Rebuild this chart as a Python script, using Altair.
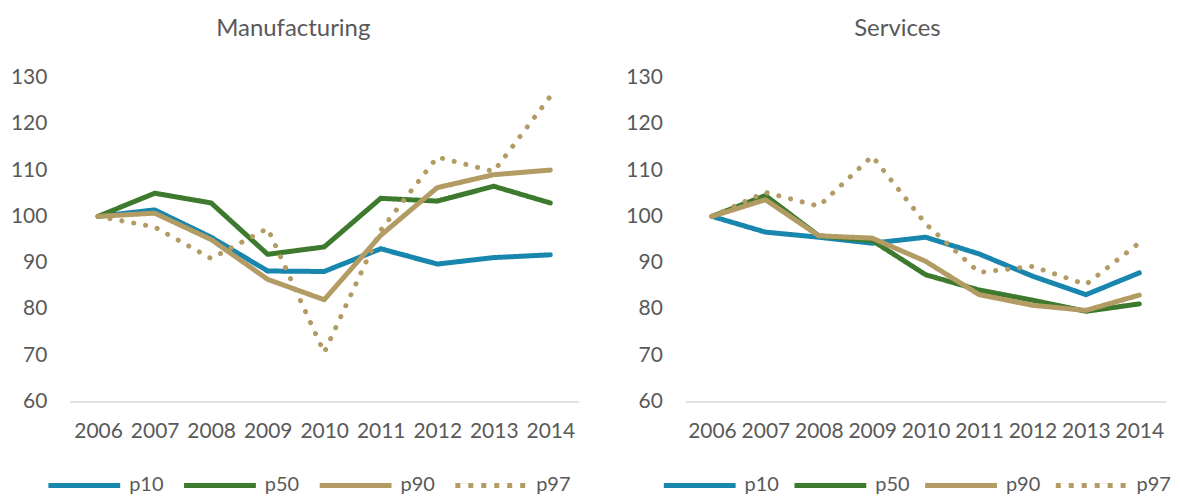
import altair as alt
import pandas as pd

years = ["2006", "2007", "2008", "2009", "2010", "2011", "2012", "2013", "2014"]
series_names = ["p10", "p50", "p90", "p97"]
series_colors = ["#1886ad", "#3e7a2d", "#b39b64", "#b39b64"]
series_dashes = [[1, 0], [1, 0], [1, 0], [5, 8]]

manufacturing_p10 = [100, 101.4, 95.5, 88.2, 88.1, 93.0, 89.7, 91.1, 91.7]
manufacturing_p50 = [100, 105.0, 102.9, 91.8, 93.4, 103.9, 103.3, 106.5, 102.9]
manufacturing_p90 = [100, 100.7, 95.0, 86.4, 82.0, 95.9, 106.2, 109.0, 110.0]
manufacturing_p97 = [100, 97.7, 90.9, 97.4, 70.6, 97.0, 112.8, 109.7, 125.9]

services_p10 = [100, 96.6, 95.5, 94.2, 95.5, 91.9, 87.1, 83.1, 87.8]
services_p50 = [100, 104.5, 95.8, 94.8, 87.4, 84.1, 81.9, 79.5, 81.1]
services_p90 = [100, 103.6, 95.8, 95.3, 90.3, 83.1, 80.8, 79.7, 83.0]
services_p97 = [100, 105.2, 102.2, 113.0, 98.4, 87.9, 89.2, 85.3, 94.3]

FONT = "Lato"
TEXT = "#595959"


def make_df(cols):
    rows = []
    for name, vals in zip(series_names, cols):
        for y, v in zip(years, vals):
            rows.append({"year": y, "series": name, "value": v})
    return pd.DataFrame(rows)


def panel(title, cols, width, col_pad):
    df = make_df(cols)
    legend = alt.Legend(
        title=None, orient="none", legendX=4.5, legendY=399, direction="horizontal",
        symbolType="M-7.2,0H7.2", symbolSize=100, symbolStrokeWidth=5,
        labelOffset=35, columnPadding=col_pad, labelFontSize=20, labelColor=TEXT,
        labelFont=FONT, padding=0,
    )
    color = alt.Color("series:N", scale=alt.Scale(domain=series_names, range=series_colors), legend=legend)
    x = alt.X("year:O", scale=alt.Scale(padding=0.5),
              axis=alt.Axis(title=None, labelAngle=0, ticks=False, domainColor="#d9d9d9",
                            domainWidth=1.5, labelPadding=19, labelFontSize=21,
                            labelColor=TEXT, labelFont=FONT))
    y = alt.Y("value:Q", scale=alt.Scale(domain=[60, 130], nice=False, zero=False),
              axis=alt.Axis(title=None, values=[60, 70, 80, 90, 100, 110, 120, 130], grid=False,
                            domain=False, ticks=False, labelPadding=23, labelFontSize=21,
                            labelColor=TEXT, labelFont=FONT, minExtent=62, maxExtent=62))
    base = alt.Chart(df)
    solid = base.transform_filter(alt.datum.series != "p97").mark_line(
        strokeWidth=5, strokeCap="round", strokeJoin="round"
    ).encode(
        x=x, y=y, color=color,
        strokeDash=alt.StrokeDash("series:N", scale=alt.Scale(domain=series_names, range=series_dashes), legend=legend),
    )
    dotted = base.transform_filter(alt.datum.series == "p97").mark_line(
        strokeWidth=5, strokeCap="round", strokeDash=[0.1, 12]
    ).encode(x=x, y=y, color=color)
    return alt.layer(solid, dotted).properties(
        width=width, height=325,
        title=alt.Title(title, fontSize=24, font=FONT, fontWeight="normal", color=TEXT,
                        anchor="middle", frame="bounds", offset=26),
    )


left = panel("Manufacturing", [manufacturing_p10, manufacturing_p50, manufacturing_p90, manufacturing_p97], 510, 10)
right = panel("Services", [services_p10, services_p50, services_p90, services_p97], 482, 5)

chart = alt.hconcat(left, right, spacing=45).resolve_scale(
    color="independent", strokeDash="independent"
).properties(
    padding={"left": 0, "top": 8, "right": 0, "bottom": 0}
).configure(font=FONT).configure_view(stroke=None)

chart.save("out.html", embed_options={"renderer": "svg", "actions": False})
